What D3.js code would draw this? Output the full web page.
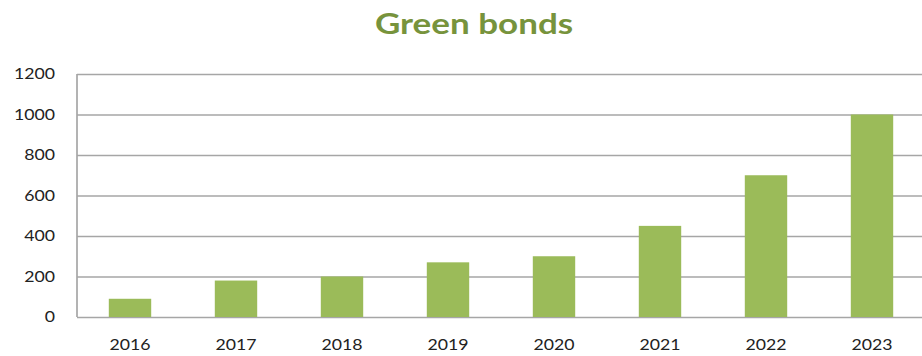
<!DOCTYPE html>
<html><head><meta charset="utf-8">
<script src="https://cdn.jsdelivr.net/npm/d3@7"></script>
<style>body{margin:0;background:#fff}svg{display:block}</style>
</head><body>
<script>
const years = ["2016","2017","2018","2019","2020","2021","2022","2023"];
const values = [90, 180, 200, 270, 300, 450, 700, 1000];
const yTicks = [0, 200, 400, 600, 800, 1000, 1200];
const title = "Green bonds";

(function () {
const W = 922, H = 356;
const svg = d3.select("body").append("svg").attr("width", W).attr("height", H);
const mL = 77, mR = 925, mT = 74, mB = 317;
const FONT = "Lato, 'Open Sans', sans-serif";
const SX = 1.18;

const x = d3.scaleBand().domain(years).range([mL, mR]).paddingInner(0.6).paddingOuter(0.3);
const y = d3.scaleLinear().domain([0, 1200]).range([mB, mT]);

svg.append("text")
  .attr("transform", `translate(474,34) scale(1.25,1)`)
  .attr("text-anchor", "middle")
  .attr("font-family", FONT).attr("font-weight", "bold")
  .attr("font-size", 28).attr("fill", "#77933C").text(title);

const yAxis = svg.append("g").attr("transform", `translate(${mL},0)`)
  .call(d3.axisLeft(y).tickValues(yTicks).tickSize(-(mR - mL)).tickPadding(22).tickFormat(d3.format("d")));
yAxis.select(".domain").remove();
yAxis.selectAll(".tick line").attr("stroke", "#a6a6a6").attr("stroke-width", 1.7);
yAxis.selectAll("text").attr("x", null).attr("transform", `translate(-22,0) scale(${SX},1)`)
  .attr("font-family", FONT).attr("font-size", 15).attr("fill", "#222");

svg.append("line").attr("x1", mL).attr("x2", mL).attr("y1", mT).attr("y2", mB)
  .attr("stroke", "#a6a6a6").attr("stroke-width", 1.7);

svg.append("g").selectAll("rect").data(values).join("rect")
  .attr("x", (d, i) => x(years[i])).attr("width", x.bandwidth())
  .attr("y", d => y(d)).attr("height", d => y(0) - y(d))
  .attr("fill", "#9BBB59");

const xAxis = svg.append("g").attr("transform", `translate(0,${mB})`)
  .call(d3.axisBottom(x).tickSize(0).tickPadding(22));
xAxis.select(".domain").remove();
xAxis.selectAll("text").attr("y", null).attr("transform", `translate(0,22) scale(${SX},1)`)
  .attr("font-family", FONT).attr("font-size", 15).attr("fill", "#222");
})();
</script>
</body></html>
